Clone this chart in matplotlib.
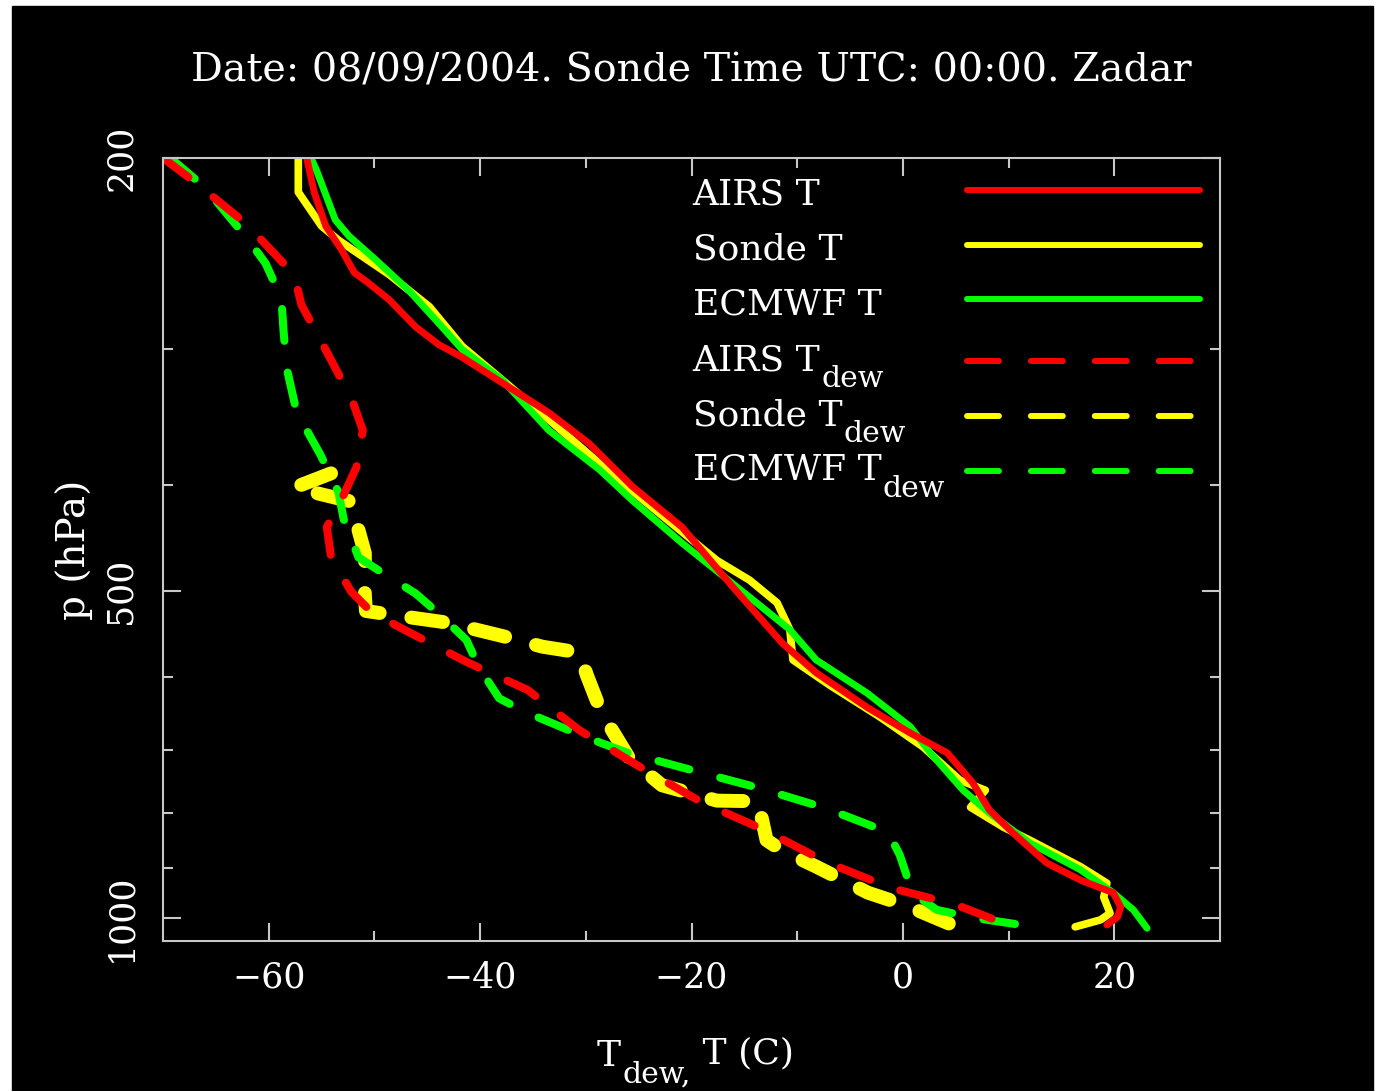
import numpy as np
import matplotlib
matplotlib.use('Agg')
import matplotlib.pyplot as plt
from matplotlib.lines import Line2D
from matplotlib.patches import Rectangle
from matplotlib.ticker import FixedLocator, FixedFormatter, NullFormatter

plt.rcParams['font.family'] = ['DejaVu Serif']
plt.rcParams['lines.scale_dashes'] = False

# temperature profiles (p in hPa, T in C)
airs_p = [200, 215, 231, 243, 255, 260, 270, 286, 297, 305, 322, 343, 366, 401, 437,
          496, 559, 595, 640, 676, 705, 751, 796, 835, 890, 923, 948, 977, 998, 1015]
airs_t = [-56.4, -55.7, -54.6, -53.1, -51.9, -50.7, -48.6, -46.1, -43.9, -41.7, -37.9,
          -33.5, -29.7, -25.6, -20.9, -16.1, -11.4, -8.2, -3.4, 0.7, 4.2, 6.6, 8.2,
          10.4, 13.6, 16.8, 19.9, 20.6, 20.3, 19.3]

sonde_p = [200, 215, 231, 238, 256, 274, 298, 320, 348, 382, 417, 469, 489, 513, 543,
           579, 611, 653, 696, 747, 763, 791, 825, 848, 897, 929, 957, 990, 1004, 1019]
sonde_t = [-57.2, -57.2, -55.0, -53.4, -48.6, -44.8, -41.7, -37.9, -33.5, -28.7, -24.0,
           -17.6, -14.5, -11.9, -10.7, -10.4, -6.9, -2.2, 1.9, 5.4, 7.8, 6.4, 9.5,
           12.0, 16.8, 19.3, 19.0, 19.6, 18.7, 16.3]

ecmwf_p = [200, 205, 228, 236, 248, 265, 286, 300, 320, 356, 387, 413, 452, 507, 543,
           579, 621, 667, 705, 763, 801, 853, 903, 948, 983, 1022]
ecmwf_t = [-56.0, -55.5, -53.7, -52.4, -49.9, -46.7, -43.6, -41.7, -37.9, -33.5, -28.7,
           -25.6, -20.9, -14.5, -10.7, -8.2, -3.4, 0.7, 2.6, 5.7, 8.2, 12.0, 16.8,
           19.9, 21.8, 23.1]

# dew point profiles
airs_dp = [200, 210, 230, 256, 273, 294, 334, 356, 385, 408, 437, 466, 501, 523, 543,
           582, 617, 672, 728, 782, 830, 888, 938, 973, 1004]
airs_td = [-70.0, -67.1, -62.1, -57.6, -56.9, -55.1, -52.1, -51.1, -51.7, -52.9, -54.5,
           -54.1, -52.2, -50.3, -47.2, -41.2, -35.5, -30.6, -24.7, -19.1, -13.1, -7.3,
           -1.2, 5.1, 8.7]

sonde_dp = [390, 402, 414, 440, 462, 505, 522, 529, 535, 551, 563, 570, 598, 648, 713,
            755, 780, 781, 848, 866, 897, 948, 973, 1019]
sonde_td = [-54.1, -57.6, -52.2, -51.5, -50.9, -50.9, -50.8, -46.7, -43.1, -37.7, -34.1,
            -30.6, -29.9, -28.5, -25.9, -22.8, -17.6, -13.7, -12.9, -11.5, -8.2, -3.3,
            0.2, 5.1]

ecmwf_dp = [200, 213, 238, 250, 269, 288, 312, 348, 356, 375, 406, 430, 466, 481, 503,
            523, 555, 588, 628, 646, 682, 704, 731, 759, 792, 834, 875, 948, 983, 1000, 1022]
ecmwf_td = [-69.3, -66.0, -61.9, -60.3, -58.8, -58.6, -58.3, -57.2, -56.4, -55.1, -53.4,
            -52.9, -51.5, -49.3, -46.1, -44.1, -41.3, -40.1, -38.2, -35.8, -30.0, -26.2,
            -20.0, -13.7, -7.4, -1.4, -0.3, 0.9, 3.2, 6.8, 13.3]

RED, YEL, GRN = '#ff0000', '#ffff00', '#00ff00'
GRAY = '#c8c8c8'
DASH = (23, 23)
FS = 26
SUB_FS = 21.5


def sub_label(x, y, main, sub, rest='', transform=None):
    # text with a large, well lowered "dew" subscript like the original plot
    t = ax.text(x, y, main, transform=transform, color='white',
                fontsize=FS, ha='left', va='baseline', clip_on=False)
    s = ax.annotate(sub, xy=(1, 0), xycoords=t, xytext=(1, -7),
                    textcoords='offset points', color='white', fontsize=SUB_FS,
                    va='baseline', ha='left', annotation_clip=False)
    if rest:
        ax.annotate(rest, xy=(1, 0), xycoords=s, xytext=(0, 18),
                    textcoords='offset points', color='white', fontsize=FS,
                    va='baseline', ha='left', annotation_clip=False)
    return t


fig = plt.figure(figsize=(13.75, 10.91), dpi=100, facecolor='white')
fig.patches.append(Rectangle((12 / 1375, 0), 1361 / 1375, 1085 / 1091,
                             transform=fig.transFigure, color='black', zorder=-1))
ax = fig.add_axes([163 / 1375, 150 / 1091, 1057 / 1375, 783 / 1091])
ax.set_facecolor('black')

kw = dict(solid_capstyle='round', dash_capstyle='round', solid_joinstyle='round')
ax.plot(sonde_td, sonde_dp, color=YEL, lw=10, dashes=DASH, **kw)
ax.plot(ecmwf_td, ecmwf_dp, color=GRN, lw=5.8, dashes=DASH, **kw)
ax.plot(airs_td, airs_dp, color=RED, lw=5.8, dashes=DASH, **kw)
ax.plot(sonde_t, sonde_p, color=YEL, lw=5.5, **kw)
ax.plot(ecmwf_t, ecmwf_p, color=GRN, lw=5.0, **kw)
ax.plot(airs_t, airs_p, color=RED, lw=5.0, **kw)

ax.set_yscale('log')
ax.set_xlim(-70, 30)
ax.set_ylim(1050, 200)

ax.xaxis.set_major_locator(FixedLocator([-60, -40, -20, 0, 20]))
ax.xaxis.set_minor_locator(FixedLocator([-50, -30, -10, 10]))
ax.xaxis.set_major_formatter(FixedFormatter(['\u221260', '\u221240', '\u221220', '0', '20']))
ax.yaxis.set_major_locator(FixedLocator([200, 500, 1000]))
ax.yaxis.set_major_formatter(FixedFormatter(['200', '500', '1000']))
ax.yaxis.set_minor_locator(FixedLocator([300, 400, 600, 700, 800, 900]))
ax.yaxis.set_minor_formatter(NullFormatter())

ax.tick_params(which='both', direction='in', top=True, right=True, color=GRAY,
               width=1.5, labelcolor='white', labelsize=25)
ax.tick_params(which='major', length=13)
ax.tick_params(which='minor', length=7)
ax.tick_params(axis='x', pad=14)
ax.tick_params(axis='y', pad=18, labelrotation=90)
for lab in ax.get_yticklabels():
    lab.set_va('center')
for s in ax.spines.values():
    s.set_color(GRAY)
    s.set_linewidth(1.5)

ax.set_ylabel('p (hPa)', color='white', fontsize=28, labelpad=8)

# x axis label: T_dew, T (C)
sub_label(597 / 1375, 1 - 1066 / 1091, 'T', 'dew,', ' T (C)', transform=fig.transFigure)

fig.text((163 + 1220) / 2 / 1375, 1 - 71 / 1091,
         'Date: 08/09/2004. Sonde Time UTC: 00:00. Zadar',
         color='white', fontsize=28.5, ha='center', va='center')

# legend
names = ['AIRS', 'Sonde', 'ECMWF']
colors = [RED, YEL, GRN]
text_y = [0.940, 0.870, 0.800, 0.729, 0.659, 0.589]
line_y = [0.959, 0.889, 0.820, 0.741, 0.671, 0.600]
for i in range(6):
    name, c = names[i % 3], colors[i % 3]
    if i < 3:
        ax.text(0.501, text_y[i], name + ' T', transform=ax.transAxes, color='white',
                fontsize=FS, ha='left', va='baseline')
    else:
        sub_label(0.501, text_y[i], name + ' T', 'dew', transform=ax.transAxes)
    ln = Line2D([0.7606, 0.981], [line_y[i], line_y[i]], transform=ax.transAxes,
                color=c, lw=4.3, solid_capstyle='round', dash_capstyle='round')
    if i >= 3:
        ln.set_dashes(DASH)
    ax.add_line(ln)

fig.savefig('out.png', dpi=100, facecolor=fig.get_facecolor())
